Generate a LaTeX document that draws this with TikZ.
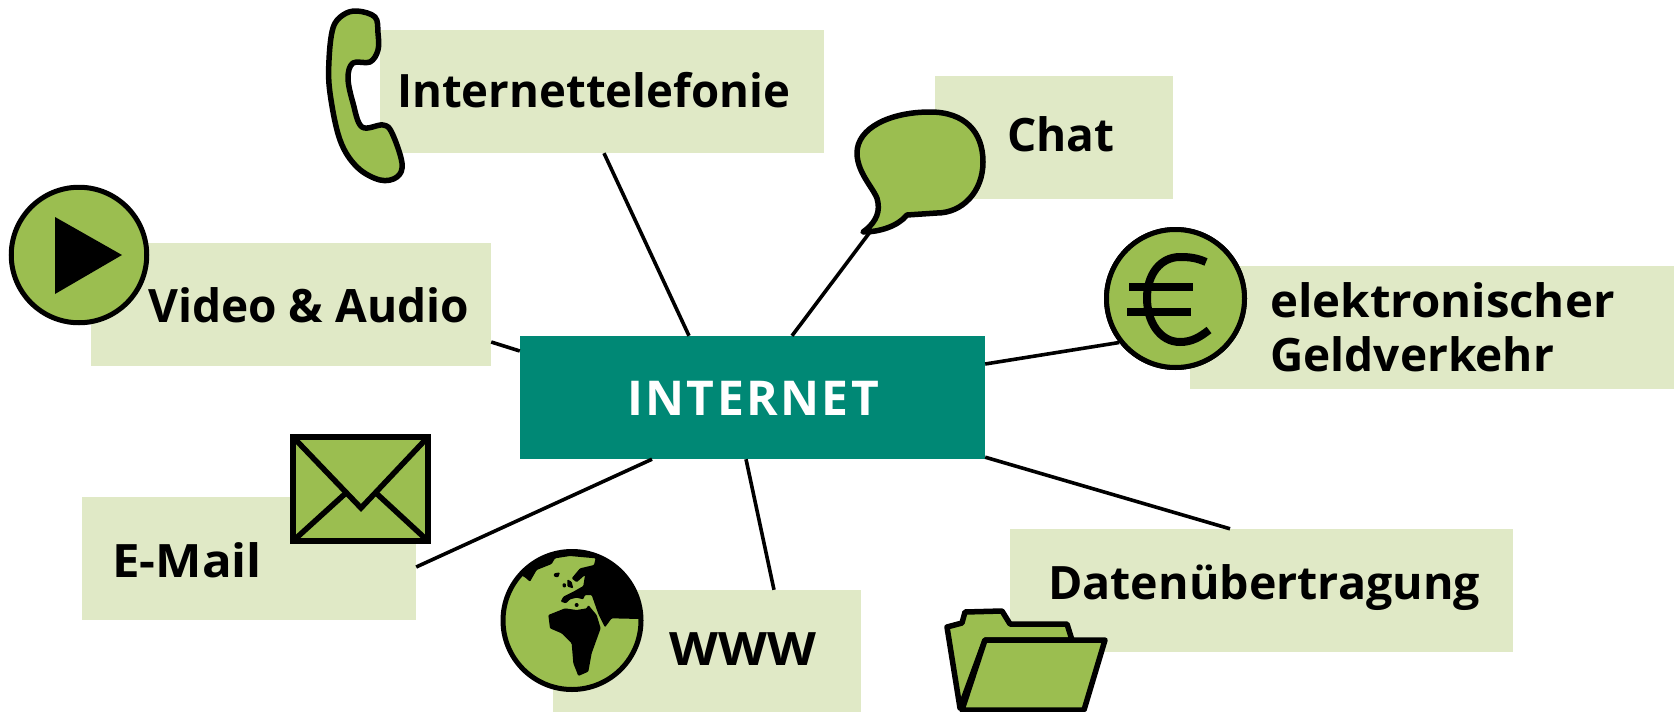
\documentclass[tikz,border=0pt]{standalone}
\usepackage{fontspec}
\setmainfont{Open Sans}
\definecolor{tagpale}{RGB}{224, 233, 198}
\definecolor{icongreen}{RGB}{155, 190, 80}
\definecolor{netteal}{RGB}{0, 136, 117}
\newcommand{\wider}[1]{\addfontfeatures{FakeStretch=#1}}
\tikzset{
    tag/.style={fill=tagpale, inner sep=0pt, minimum height=123pt},
    tagtext/.style={inner sep=0pt, anchor=base west, font=\fontsize{46}{54}\selectfont\bfseries},
    link/.style={black, line width=3.6pt},
    icon/.style={draw=black, fill=icongreen, line width=5.5pt, line join=round},
    coin/.style={circle, draw=black, fill=icongreen, line width=5pt, inner sep=0pt, minimum size=138pt}
}
\begin{document}
\begin{tikzpicture}[x=1pt, y=-1pt]
    \useasboundingbox (0,0) rectangle (1674,712);
    \node[tag, minimum width=444pt] (phone) at (601.5,91.5) {};
    \node[tag, minimum width=238pt] (chat) at (1054,137.5) {};
    \node[tag, minimum width=400pt] (video) at (291,304.5) {};
    \node[tag, minimum width=484pt] (money) at (1432,327.5) {};
    \node[tag, minimum width=334pt] (mail) at (249,558.5) {};
    \node[tag, minimum width=308pt] (www) at (707,651.5) {};
    \node[tag, minimum width=503pt] (data) at (1261.5,590.5) {};
    \node[fill=netteal, inner sep=0pt, minimum width=465pt, minimum height=123pt] (internet) at (752.5,397.5) {};
    \coordinate (chattail) at (870,232);
    \node[coin] (euro) at (1175.5,298.5) {};
    \draw[link] ([xshift=2.5pt]phone.south) -- ([xshift=-63.5pt]internet.north);
    \draw[link] (chattail) -- ([xshift=39.5pt]internet.north);
    \draw[link] ([yshift=-37.5pt]video.east) -- ([yshift=46.5pt]internet.west);
    \draw[link] (euro.218) -- ([yshift=33.5pt]internet.east);
    \draw[link] ([yshift=-8.5pt]mail.east) -- ([xshift=-100.5pt]internet.south);
    \draw[link] ([xshift=67pt]www.north) -- ([xshift=-6.5pt]internet.south);
    \draw[link] ([xshift=-31.5pt]data.north) -- ([yshift=2pt]internet.south east);
    \node[coin] (euroface) at (euro) {};
    \draw[black, line width=8pt] (1206,262) .. controls (1197,258) and (1190,257) .. (1180,257) .. controls (1160,257) and (1147,275) .. (1147,298) .. controls (1147,322) and (1160,342) .. (1180,342) .. controls (1192,342) and (1200,337) .. (1209,330);
    \draw[black, line width=8pt] (1129,287) -- (1193,287);
    \draw[black, line width=8pt] (1127,312) -- (1191,312);
    \draw[icon] plot[smooth cycle, tension=0.6] coordinates {(357,11) (375,17) (378,33) (378,50) (370,62) (353,63) (348,78) (353,103) (362,127) (383,125) (392,133) (402,163) (397,177) (380,180) (357,167) (340,140) (330,93) (329,60) (333,28) (343,15)};
    \draw[icon] (863,232) .. controls (880,232) and (898,226) .. (907,215) -- (937,213) .. controls (962,213) and (983,192) .. (983,162) .. controls (983,132) and (965,112) .. (930,112) .. controls (890,112) and (857,128) .. (857,153) .. controls (857,175) and (878,192) .. (878,203) .. controls (880,215) and (873,225) .. (863,232) -- cycle;
    \node[coin, minimum size=135.5pt] (play) at (79,255) {};
    \fill[black] (55,217) -- (122,255) -- (55,294) -- cycle;
    \draw[icon, line join=miter, line width=6pt] (293,437) rectangle (428,541);
    \draw[black, line width=5.5pt] (293,437) -- (361,508) -- (428,437);
    \draw[black, line width=5.5pt] (293,541) -- (347,492);
    \draw[black, line width=5.5pt] (428,541) -- (376,493);
    \node[coin] (globe) at (572,620.5) {};
    \begin{scope}[shift={(490,540)}, scale=0.3333]
        \clip (246,241) circle (210);
        \fill[black, rounded corners=1pt] (0,90) -- (60,90) -- (105,112) -- (120,125) -- (140,90) -- (185,72) -- (195,55) -- (240,48) -- (317,55) -- (312,75) -- (270,85) -- (245,115) -- (260,127) -- (285,105) -- (280,138) -- (250,155) -- (220,170) -- (212,185) -- (228,190) -- (240,178) -- (260,173) -- (280,178) -- (285,165) -- (305,165) -- (325,222) -- (345,262) -- (365,235) -- (450,237) -- (480,237) -- (480,0) -- (0,0) -- cycle;
        \fill[black, rounded corners=1pt] (175,225) -- (225,205) -- (260,210) -- (290,205) -- (295,195) -- (320,225) -- (332,265) -- (305,340) -- (295,395) -- (265,408) -- (250,370) -- (245,310) -- (215,280) -- (180,265) -- cycle;
        \fill[black, rounded corners=1pt] (192,100) -- (210,97) -- (205,112) -- (192,110) -- cycle;
        \fill[black, rounded corners=1pt] (218,130) -- (228,130) -- (228,142) -- (218,142) -- cycle;
        \fill[black, rounded corners=1pt] (232,118) -- (245,125) -- (250,145) -- (232,140) -- cycle;
        \fill[black] (260,195) circle (6);
    \end{scope}
    \draw[icon] (960,708) -- (947,627) -- (962,623) -- (965,612) -- (1002,611) -- (1010,624) -- (1067,624) -- (1072,640) -- (985,640) -- cycle;
    \draw[icon] (962,710) -- (985,640) -- (1105,640) -- (1084,710) -- cycle;
    \node[tagtext] (phonetext) at (397,107) {\wider{0.99}Internettelefonie};
    \node[tagtext] (chattext) at (1007,151) {Chat};
    \node[tagtext] (videotext) at (148,322) {Video \& Audio};
    \node[tagtext] (moneytext) at (1270,317) {\wider{1.03}elektronischer};
    \node[tagtext] (moneytexttwo) at (1270,371) {Geldverkehr};
    \node[tagtext] (mailtext) at (112,577) {\wider{1.07}E-Mail};
    \node[tagtext] (wwwtext) at (669,665) {\wider{1.1}WWW};
    \node[tagtext] (datatext) at (1048,599) {\wider{1.012}Datenübertragung};
    \node[tagtext, text=white, font=\fontsize{48}{54}\selectfont\bfseries] (nettext) at (627,415) {\addfontfeatures{LetterSpace=5}INTERNET};
\end{tikzpicture}
\end{document}
